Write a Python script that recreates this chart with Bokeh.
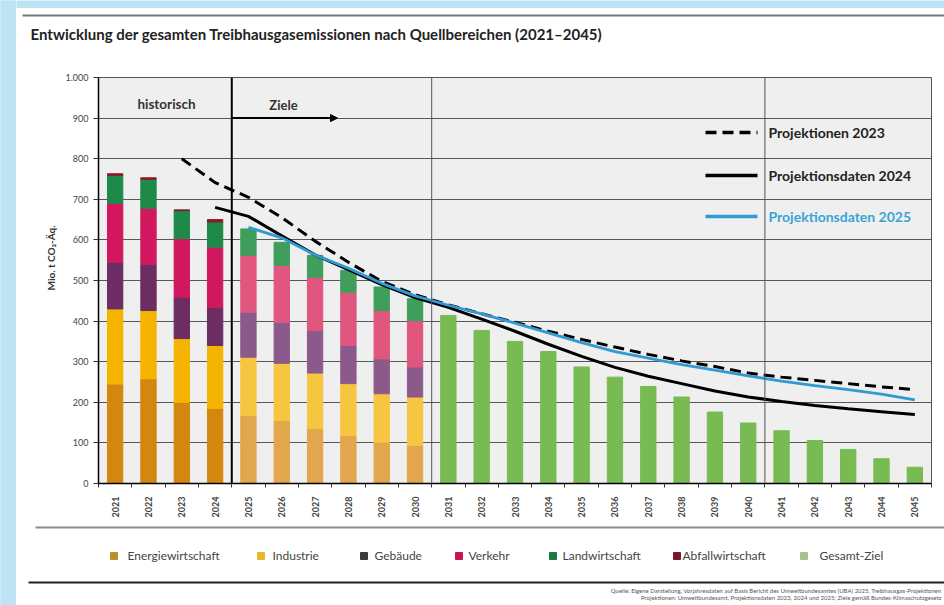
from math import pi
from bokeh.plotting import figure
from bokeh.layouts import column, row
from bokeh.models import (Range1d, FixedTicker, Span, Label, Arrow, NormalHead, ColumnDataSource, Title)
from bokeh.core.properties import value
from bokeh.embed import file_html
from bokeh.resources import INLINE

# ---------------- data (Mio. t CO2-Äq.) ----------------
years_hist = [2021, 2022, 2023, 2024]
energie_hist = [245, 258, 200, 185]
industrie_hist = [185, 168, 157, 155]
gebaeude_hist = [115, 114, 102, 94]
verkehr_hist = [145, 138, 144, 148]
landwirt_hist = [69, 71, 69, 62]
abfall_hist = [4, 4, 2, 6]

years_ziel = [2025, 2026, 2027, 2028, 2029, 2030]
energie_ziel = [167, 155, 135, 118, 102, 94]
industrie_ziel = [144, 141, 137, 128, 119, 119]
gebaeude_ziel = [111, 101, 105, 94, 86, 74]
verkehr_ziel = [140, 140, 131, 131, 119, 114]
landwirt_ziel = [65, 57, 54, 54, 58, 54]

years_gesamt = list(range(2031, 2046))
gesamt_ziel = [414, 377, 350, 325, 287, 262, 239, 213, 176, 149, 130, 106, 84, 61, 40]

years_p23 = list(range(2023, 2046))
proj_2023 = [800, 741, 705, 655, 597, 545, 498, 465, 440, 418, 397, 375, 355,
             336, 318, 302, 288, 272, 262, 254, 246, 238, 231]
years_p24 = list(range(2024, 2046))
proj_2024 = [680, 658, 610, 563, 527, 490, 458, 434, 405, 375, 343, 313, 286,
             264, 246, 228, 213, 202, 192, 184, 177, 170]
years_p25 = list(range(2025, 2046))
proj_2025 = [631, 605, 563, 530, 493, 462, 439, 418, 395, 371, 347, 325, 309,
             293, 279, 265, 252, 241, 231, 220, 206]

all_years = list(range(2021, 2046))
y_ticks = list(range(0, 1001, 100))
y_labels = {1000: "1.000"}

sektoren = ["Energiewirtschaft", "Industrie", "Gebäude", "Verkehr",
            "Landwirtschaft", "Abfallwirtschaft", "Gesamt-Ziel"]
projektionen = ["Projektionen 2023", "Projektionsdaten 2024", "Projektionsdaten 2025"]
titel = "Entwicklung der gesamten Treibhausgasemissionen nach Quellbereichen (2021–2045)"
y_titel = "Mio. t CO₂-Äq."
quelle = ["Quelle: Eigene Darstellung, Vorjahresdaten auf Basis Bericht des Umweltbundesamtes (UBA) 2025, Treibhausgas-Projektionen",
          "Projektionen: Umweltbundesamt, Projektionsdaten 2023, 2024 und 2025; Ziele gemäß Bundes-Klimaschutzgesetz"]

# ---------------- styles ----------------
hist_colors = ["#d4870f", "#f5b400", "#6b2d62", "#d1185e", "#1d8a4a", "#8a1c2c"]
ziel_colors = ["#e2a64c", "#f6c640", "#8c5a8a", "#e0567f", "#3f9e5b"]
gesamt_color = "#77bb52"
legend_colors = ["#b8922a", "#e9b82a", "#3c3c3c", "#c81450", "#1b7a42", "#7a1832", "#a9c08c"]
BLUE_BG = "#bde3f5"
PROJ_BLUE = "#2f9ad3"
FONT = "Lato"


def blank_fig(x0, x1, y_top, y_bot, w, h):
    f = figure(width=w, height=h, output_backend="svg", toolbar_location=None,
               x_range=Range1d(x0, x1), y_range=Range1d(y_bot, y_top),
               x_axis_type=None, y_axis_type=None,
               min_border_left=0, min_border_right=0, min_border_top=0, min_border_bottom=0)
    f.outline_line_color = None
    f.grid.visible = False
    f.background_fill_color = "white"
    f.border_fill_color = "white"
    return f


# ---------------- blue strip on the left (page x 0..16) ----------------
strip = blank_fig(0, 16, 0, 605, 16, 605)
strip.background_fill_color = BLUE_BG
strip.border_fill_color = BLUE_BG
strip.quad(left=-5, right=21, top=-5, bottom=610, color=BLUE_BG)

# ---------------- top panel (page y 0..67) ----------------
top = blank_fig(16, 944, 0, 67, 928, 67)
top.quad(left=10, right=950, top=-2, bottom=7, color=BLUE_BG)
top.segment(x0=22, y0=15, x1=944, y1=15, line_color="#777777", line_width=2)
top.text(x=[30], y=[33], text=[titel], text_align="left", text_baseline="middle",
         text_font=value(FONT), text_font_size="15px", text_font_style="bold", text_color="#222222")

# ---------------- main chart ----------------
p = figure(width=928, height=456, output_backend="svg", toolbar_location=None,
           x_range=Range1d(2020.5, 2045.5), y_range=Range1d(0, 1000),
           min_border_left=82, min_border_right=13, min_border_top=10, min_border_bottom=40)
p.background_fill_color = "#efefef"
p.border_fill_color = "white"
p.outline_line_color = "#555555"
p.outline_line_width = 1

p.xgrid.visible = False
p.ygrid.ticker = FixedTicker(ticks=y_ticks)
p.ygrid.grid_line_color = "#575757"
p.ygrid.grid_line_width = 1

p.yaxis.ticker = FixedTicker(ticks=y_ticks)
p.yaxis.major_label_overrides = y_labels
p.yaxis.major_label_text_font = FONT
p.yaxis.major_label_text_font_size = "9px"
p.yaxis.major_label_text_color = "#444444"
p.yaxis.axis_line_color = "black"
p.yaxis.axis_line_width = 1.5
p.yaxis.major_tick_out = 5
p.yaxis.major_tick_in = 0
p.yaxis.major_tick_line_color = "#333333"
p.yaxis.minor_tick_line_color = None
p.yaxis.major_label_standoff = 5

# y axis title as a side title, shifted up like in the original
p.add_layout(Title(text=y_titel, align="left", offset=193, standoff=12,
                   text_font=FONT, text_font_size="10px", text_font_style="bold",
                   text_color="#333333"), "left")

p.xaxis.ticker = FixedTicker(ticks=all_years, minor_ticks=[y - 0.5 for y in all_years] + [2045.5])
p.xaxis.major_label_orientation = pi / 2
p.xaxis.major_label_text_font = FONT
p.xaxis.major_label_text_font_size = "9px"
p.xaxis.major_label_text_font_style = "bold"
p.xaxis.major_label_text_color = "#444444"
p.xaxis.major_tick_line_color = None
p.xaxis.minor_tick_out = 4
p.xaxis.minor_tick_in = 0
p.xaxis.minor_tick_line_color = "#333333"
p.xaxis.axis_line_color = "black"
p.xaxis.axis_line_width = 1.5
p.xaxis.major_label_standoff = 7

p.add_layout(Span(location=2024.5, dimension="height", line_color="black", line_width=2))
p.add_layout(Span(location=2030.5, dimension="height", line_color="#555555", line_width=1))
p.add_layout(Span(location=2040.5, dimension="height", line_color="#555555", line_width=1))

src_h = ColumnDataSource(dict(year=years_hist, e=energie_hist, i=industrie_hist, g=gebaeude_hist,
                              v=verkehr_hist, l=landwirt_hist, a=abfall_hist))
p.vbar_stack(["e", "i", "g", "v", "l", "a"], x="year", width=0.46, color=hist_colors, source=src_h)
src_z = ColumnDataSource(dict(year=years_ziel, e=energie_ziel, i=industrie_ziel, g=gebaeude_ziel,
                              v=verkehr_ziel, l=landwirt_ziel))
p.vbar_stack(["e", "i", "g", "v", "l"], x="year", width=0.46, color=ziel_colors, source=src_z)
p.vbar(x=years_gesamt, top=gesamt_ziel, width=0.46, color=gesamt_color)

p.line(years_p23, proj_2023, line_color="black", line_width=3, line_dash="11 6")
p.line(years_p24, proj_2024, line_color="black", line_width=3)
p.line(years_p25, proj_2025, line_color=PROJ_BLUE, line_width=2.8)


# page pixel -> data helpers (annotation placement inside the frame)
def fx(px):
    return 2020.5 + (px - 98) * 25 / 833


def fy(py):
    return (483 - py) * 1000 / 406


p.add_layout(Label(x=fx(166), y=fy(103), text="historisch", text_align="center", text_baseline="middle",
                   text_font=FONT, text_font_size="13.5px", text_font_style="bold", text_color="#333333"))
p.add_layout(Label(x=fx(283), y=fy(104), text="Ziele", text_align="center", text_baseline="middle",
                   text_font=FONT, text_font_size="13px", text_font_style="bold", text_color="#333333"))
p.add_layout(Arrow(end=NormalHead(size=7, fill_color="black", line_color="black"),
                   x_start=2024.5, y_start=900, x_end=fx(337), y_end=900,
                   line_color="black", line_width=2))

leg = [("black", "11 6", "#222222", 132), ("black", "solid", "#222222", 175),
       (PROJ_BLUE, "solid", "#3aa3d6", 216)]
for name, (col, dash, tcol, py) in zip(projektionen, leg):
    p.line([fx(705), fx(757)], [fy(py), fy(py)], line_color=col, line_width=3.5, line_dash=dash)
    p.add_layout(Label(x=fx(768), y=fy(py), text=name, text_align="left", text_baseline="middle",
                       text_font=FONT, text_font_size="14px", text_font_style="bold", text_color=tcol))

# ---------------- bottom panel (page y 523..605) ----------------
bot = blank_fig(16, 944, 523, 605, 928, 82)
bot.segment(x0=35, y0=527, x1=944, y1=527, line_color="#8a8a8a", line_width=2)
bot.segment(x0=28, y0=582, x1=944, y1=582, line_color="#222222", line_width=2)
leg_sq = [110, 257, 360, 455, 549, 673, 800]
leg_tx = [127, 272, 374, 468, 562, 682, 819]
bot.quad(left=leg_sq, right=[s + 7 for s in leg_sq], top=[552] * 7, bottom=[559] * 7,
         color=legend_colors)
bot.text(x=leg_tx, y=[555] * 7, text=sektoren, text_align="left", text_baseline="middle",
         text_font=value(FONT), text_font_size="12px", text_color="#444444")
bot.text(x=[941, 941], y=[590, 597], text=quelle, text_align="right", text_baseline="middle",
         text_font=value(FONT), text_font_size="6px", text_color="#555555")

layout = row(strip, column(top, row(p), bot))
open("out.html", "w").write(file_html(layout, INLINE))
